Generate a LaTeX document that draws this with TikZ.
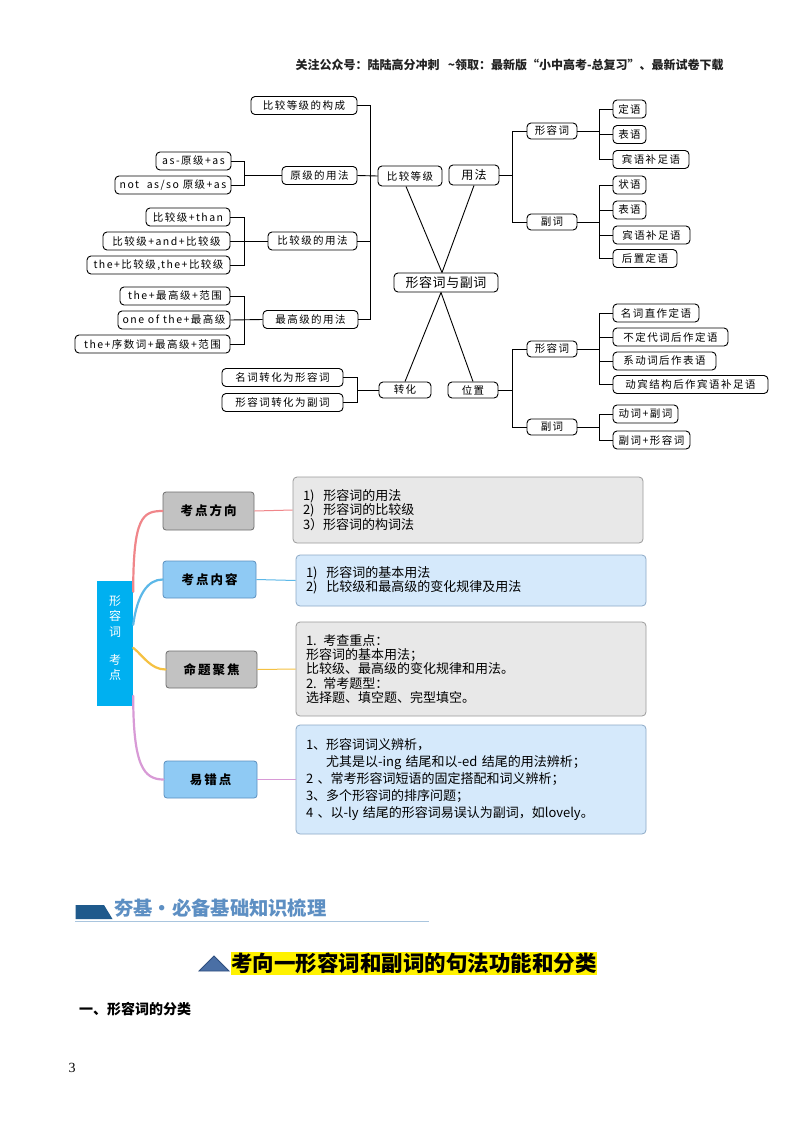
\documentclass[tikz,border=0pt]{standalone}
\usepackage{fontspec}
\setmainfont{Noto Sans CJK SC}
\newfontfamily\serifnum{Liberation Serif}
\usetikzlibrary{calc}
\definecolor{catgray}{HTML}{C2C2C2}
\definecolor{catgrayd}{HTML}{6E6E6E}
\definecolor{catblue}{HTML}{8FCAF4}
\definecolor{catblued}{HTML}{5B8FBF}
\definecolor{tgray}{HTML}{E8E8E8}
\definecolor{tgrayd}{HTML}{9A9A9A}
\definecolor{tblue}{HTML}{D5E9FB}
\definecolor{tblued}{HTML}{8CA9C6}
\definecolor{kdblue}{HTML}{00B0F0}
\definecolor{pkc}{HTML}{F0868A}
\definecolor{blc}{HTML}{5CB8E8}
\definecolor{ylc}{HTML}{F5C142}
\definecolor{puc}{HTML}{D89AD6}
\definecolor{bannerc}{HTML}{1F5A8C}
\definecolor{bannert}{HTML}{5D8FC3}
\definecolor{ulc}{HTML}{A9C5DE}
\definecolor{tric}{HTML}{4A6FA5}
\definecolor{tried}{HTML}{2F4F7F}
\definecolor{hdr}{HTML}{222222}
\begin{document}
\begin{tikzpicture}[x=1pt,y=-1pt,
  mb/.style={draw=black, line width=0.9pt, rounded corners=4pt, fill=white,
    minimum height=18pt, inner sep=0pt,
    font=\fontsize{10.5}{12}\selectfont\addfontfeature{LetterSpace=14}},
  sb/.style={mb, minimum height=16pt},
  ln/.style={line width=0.9pt, black},
  catg/.style={draw=catgrayd, fill=catgray, rounded corners=3pt, line width=0.8pt,
    inner sep=0pt, font=\fontsize{12.5}{14}\selectfont\bfseries\addfontfeature{LetterSpace=16}},
  catb/.style={catg, draw=catblued, fill=catblue},
  tbx/.style={draw=tgrayd, fill=tgray, rounded corners=4pt, line width=0.8pt,
    align=left, inner xsep=10pt, text width=330pt, minimum width=350pt,
    font=\fontsize{13}{14.3}\selectfont},
  tbb/.style={tbx, draw=tblued, fill=tblue},
  crv/.style={line width=2.2pt, line cap=round},
  hl/.style={line width=1pt}
]
\useasboundingbox (0,0) rectangle (800,1132);
\fill[white] (0,0) rectangle (800,1132);

% header
\node[anchor=west, text=hdr, font=\fontsize{12}{13}\selectfont\bfseries] (hd) at (292,65)
  {关注公众号：陆陆高分冲刺\ \ \ \textasciitilde 领取：最新版“小中高考-总复习”、最新试卷下载};

% ===== top mind map =====
\node[mb, minimum width=106pt] (c1) at (304,105.5) {比较等级的构成};
\node[mb, minimum width=75pt] (yj) at (319.5,175.5) {原级的用法};
\node[mb, minimum width=75pt] (a1) at (193.5,161) {as-原级+as};
\node[mb, minimum width=116pt] (a2) at (173,185) {not\ \ as/so\ 原级+as};
\node[mb, minimum width=89pt] (bj) at (312.5,241) {比较级的用法};
\node[mb, minimum width=84pt] (b1) at (188,217) {比较级+than};
\node[mb, minimum width=127pt] (b2) at (166.5,241) {比较级+and+比较级};
\node[mb, minimum width=143pt] (b3) at (158.5,265) {the+比较级,the+比较级};
\node[mb, minimum width=95pt] (zg) at (310.5,319.5) {最高级的用法};
\node[mb, minimum width=110pt] (z1) at (175,296) {the+最高级+范围};
\node[mb, minimum width=112pt] (z2) at (174,320) {one of the+最高级};
\node[mb, minimum width=155pt] (z3) at (152.5,344) {the+序数词+最高级+范围};
\node[mb, minimum width=64pt, minimum height=20pt] (bd) at (410,176) {比较等级};
\node[mb, minimum width=50pt, minimum height=20pt, font=\fontsize{12}{13}\selectfont\addfontfeature{LetterSpace=10}] (yf) at (474,175) {用法};
\node[mb, minimum width=104pt, minimum height=19pt, font=\fontsize{13}{14}\selectfont\addfontfeature{LetterSpace=4}] (ct) at (446,282.5) {形容词与副词};
\node[sb, minimum width=52pt] (zh) at (405,390) {转化};
\node[sb, minimum width=50pt] (wz) at (473,390) {位置};
\node[mb, minimum width=121pt] (n1) at (282.5,377.5) {名词转化为形容词};
\node[mb, minimum width=121pt] (n2) at (282.5,402.5) {形容词转化为副词};

\node[sb, minimum width=50pt] (ua) at (552,131) {形容词};
\node[sb, minimum width=50pt] (ub) at (552,222) {副词};
\node[mb, minimum width=33pt] (u1) at (629.5,109) {定语};
\node[mb, minimum width=33pt] (u2) at (629.5,134.5) {表语};
\node[mb, minimum width=76pt] (u3) at (651,159.5) {宾语补足语};
\node[mb, minimum width=33pt] (v1) at (629.5,185) {状语};
\node[mb, minimum width=33pt] (v2) at (629.5,210) {表语};
\node[mb, minimum width=77pt] (v3) at (651.5,235) {宾语补足语};
\node[mb, minimum width=64pt] (v4) at (645,258.5) {后置定语};
\node[sb, minimum width=50pt] (pa) at (552,349) {形容词};
\node[sb, minimum width=50pt] (pb) at (552,427) {副词};
\node[mb, minimum width=86pt] (p1) at (656,313) {名词直作定语};
\node[mb, minimum width=115pt] (p2) at (670.5,337) {不定代词后作定语};
\node[mb, minimum width=103pt] (p3) at (664.5,361) {系动词后作表语};
\node[mb, minimum width=155pt] (p4) at (690.5,384.5) {动宾结构后作宾语补足语};
\node[mb, minimum width=65pt] (q1) at (645.5,414) {动词+副词};
\node[mb, minimum width=77pt] (q2) at (651.5,440) {副词+形容词};

% connectors (left)
\coordinate (tL) at (370,0);
\coordinate (bk1) at (244,0);
\coordinate (bk2) at (357,0);
\coordinate (rx) at (512,0);
\coordinate (sx) at (599,0);
\draw[ln] (c1.east) -| (tL |- zg.east) -- (zg.east);
\draw[ln] (yj.east) -- (bd.west);
\draw[ln] (bj.east) -- (bj.east -| tL);
\draw[ln] (a1.east) -| (bk1 |- a2.east) -- (a2.east);
\draw[ln] (bk1 |- yj.west) -- (yj.west);
\draw[ln] (b1.east) -| (bk1 |- b3.east) -- (b3.east);
\draw[ln] (b2.east) -- (bj.west);
\draw[ln] (z1.east) -| (bk1 |- z3.east) -- (z3.east);
\draw[ln] (z2.east) -- (zg.west);
% V shapes
\draw[ln] ([xshift=-4pt]bd.south) -- ([xshift=-4pt]ct.north);
\draw[ln] (yf.south) -- ([xshift=-4pt]ct.north);
\draw[ln] ([xshift=-5pt]ct.south) -- (zh.north);
\draw[ln] ([xshift=-5pt]ct.south) -- (wz.north);
\draw[ln] (n1.east) -| (bk2 |- n2.east) -- (n2.east);
\draw[ln] (bk2 |- zh.west) -- (zh.west);
% connectors (right)
\draw[ln] (yf.east) -- (yf.east -| rx);
\draw[ln] (ua.west) -| (rx |- ub.west) -- (ub.west);
\draw[ln] (ua.east) -- (ua.east -| sx);
\draw[ln] (u1.west) -| (sx |- u3.west) -- (u3.west);
\draw[ln] (u2.west) -- (u2.west -| sx);
\draw[ln] (ub.east) -- (ub.east -| sx);
\draw[ln] (v1.west) -| (sx |- v4.west) -- (v4.west);
\draw[ln] (v2.west) -- (v2.west -| sx);
\draw[ln] (v3.west) -- (v3.west -| sx);
\draw[ln] (wz.east) -- (wz.east -| rx);
\draw[ln] (pa.west) -| (rx |- pb.west) -- (pb.west);
\draw[ln] (pa.east) -- (pa.east -| sx);
\draw[ln] (p1.west) -| (sx |- p4.west) -- (p4.west);
\draw[ln] (p2.west) -- (p2.west -| sx);
\draw[ln] (p3.west) -- (p3.west -| sx);
\draw[ln] (pb.east) -- (pb.east -| sx);
\draw[ln] (q1.west) -| (sx |- q2.west) -- (q2.west);

% ===== middle chart =====
\node[fill=kdblue, minimum width=36pt, minimum height=125pt, inner sep=0pt] (kd) at (115,643.5) {};
\node[text=white, align=center, font=\fontsize{12}{15.5}\selectfont] (kdt) at (115,638)
  {形\\容\\词\\[12.5pt]考\\点};

\node[catg, minimum width=91pt, minimum height=38pt] (k1) at (208.5,511) {考点方向};
\node[catb, minimum width=93pt, minimum height=37pt] (k2) at (209.5,579.5) {考点内容};
\node[catg, minimum width=91pt, minimum height=37pt] (k3) at (211.5,669.5) {命题聚焦};
\node[catb, minimum width=93pt, minimum height=37pt] (k4) at (210.5,779.5) {易错点};

\node[tbx, minimum height=66pt] (t1) at (468,510)
  {1)\ \ 形容词的用法\\2)\ \ 形容词的比较级\\3）形容词的构词法};
\node[tbb, minimum height=51pt] (t2) at (471,580.5)
  {1)\ \ 形容词的基本用法\\2)\ \ 比较级和最高级的变化规律及用法};
\node[tbx, minimum height=94pt] (t3) at (471,669)
  {1. 考查重点：\\形容词的基本用法；\\比较级、最高级的变化规律和用法。\\2. 常考题型：\\选择题、填空题、完型填空。};
\node[tbb, minimum height=109pt, font=\fontsize{13}{17.2}\selectfont] (t4) at (471,779.5)
  {1、形容词词义辨析，\\\hspace*{20pt}尤其是以-ing 结尾和以-ed 结尾的用法辨析；\\2 、常考形容词短语的固定搭配和词义辨析；\\3、多个形容词的排序问题；\\4 、以-ly 结尾的形容词易误认为副词，如lovely。};

\draw[crv, pkc] ([yshift=-11pt]kd.north east) .. controls +(0pt,75pt) and +(-20pt,0pt) .. (k1.west);
\draw[crv, blc] ([yshift=-44pt]kd.north east) .. controls +(4pt,30pt) and +(-15pt,0pt) .. (k2.west);
\draw[crv, ylc] ([yshift=-67pt]kd.north east) .. controls +(10pt,-8pt) and +(-15pt,0pt) .. (k3.west);
\draw[crv, puc] ([yshift=-115pt]kd.north east) .. controls +(0pt,-70pt) and +(-20pt,0pt) .. (k4.west);
\draw[hl, pkc] (k1.east) -- (t1.west);
\draw[hl, blc] (k2.east) -- (t2.west);
\draw[hl, ylc] (k3.east) -- (t3.west);
\draw[hl, puc] (k4.east) -- (t4.west);

% ===== bottom =====
\fill[bannerc] (75.5,905) -- (104,905) -- (112.5,919) -- (75.5,919) -- cycle;
\node[anchor=west, text=bannert, inner sep=0pt, font=\fontsize{19.3}{21}\selectfont\bfseries] (bt) at (114,908.5) {夯基・必备基础知识梳理};
\draw[ulc, line width=1.5pt] (75,921.5) -- (429,921.5);

\filldraw[fill=tric, draw=tried, line width=0.8pt] (199,971) -- (214,956) -- (229,971) -- cycle;
\node[anchor=west, fill=yellow, inner sep=0pt, minimum height=23pt, font=\fontsize{21.5}{23}\selectfont\bfseries] (h1) at (231,963.5) {考向一形容词和副词的句法功能和分类};
\node[anchor=west, inner sep=0pt, font=\fontsize{14}{16}\selectfont\bfseries] (h2) at (79,1009) {一、形容词的分类};
\node[inner sep=0pt, font=\serifnum\fontsize{14}{16}\selectfont] (pg) at (72,1068) {3};
\end{tikzpicture}
\end{document}
